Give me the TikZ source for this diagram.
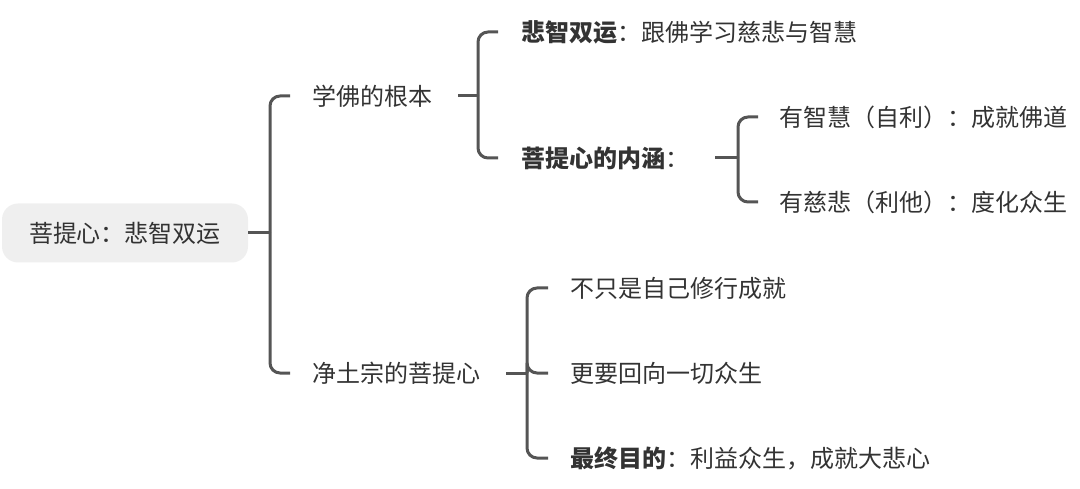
\documentclass[tikz,border=0pt]{standalone}
\usepackage{fontspec}
\setmainfont{Noto Sans CJK SC}
\usepackage{xcolor}
\usepackage{tikz}
\usetikzlibrary{positioning, calc}
\definecolor{linegray}{HTML}{555555}
\definecolor{textgray}{HTML}{333333}
\definecolor{rootfill}{HTML}{EFEFEF}

\begin{document}
\begin{tikzpicture}[x=1pt, y=-1pt, every node/.style={font=\fontsize{24}{28}\selectfont, text=textgray}]
			\tikzstyle{topic}=[anchor=west, inner sep=0pt]
			\tikzstyle{branch}=[draw=linegray, line width=3, rounded corners=10]
			\tikzstyle{stub}=[draw=linegray, line width=3]
			\useasboundingbox (0,0) rectangle (1080,489);
			
			\node (root) at (125,233) [fill=rootfill, rounded corners=16, minimum width=246, minimum height=59, inner sep=0pt] {菩提心：悲智双运};
			
			\node (t1) at (312,96) [topic] {学佛的根本};
			\node (t2) at (312,373) [topic] {净土宗的菩提心};
			
			\node (c1) at (521,32) [topic] {\textbf{悲智双运}：跟佛学习慈悲与智慧};
			\node (c2) at (521,158) [topic] {\textbf{菩提心的内涵}：};
			
			\node (d1) at (779,117) [topic] {有智慧（自利）：成就佛道};
			\node (d2) at (779,202) [topic] {有慈悲（利他）：度化众生};
			
			\node (e1) at (570,288) [topic] {不只是自己修行成就};
			\node (e2) at (570,373) [topic] {更要回向一切众生};
			\node (e3) at (570,458) [topic] {\textbf{最终目的}：利益众生，成就大悲心};
			
			\coordinate (j0) at (270,233);
			\coordinate (j1) at (478,96);
			\coordinate (j2) at (738,158);
			\coordinate (j3) at (527,373);
			
			%% root
			\draw [stub] (root.east) -- (j0);
			\draw [branch] (j0) |- ([xshift=-22]t1.west);
			\draw [branch] (j0) |- ([xshift=-22]t2.west);
			
			%% 学佛的根本
			\draw [stub, shorten <=26] (t1.east) -- (j1);
			\draw [branch] (j1) |- ([xshift=-23]c1.west);
			\draw [branch] (j1) |- ([xshift=-23]c2.west);
			
			%% 菩提心的内涵
			\draw [stub, shorten <=26] (c2.east) -- (j2);
			\draw [branch] (j2) |- ([xshift=-21]d1.west);
			\draw [branch] (j2) |- ([xshift=-21]d2.west);
			
			%% 净土宗的菩提心
			\draw [stub, shorten <=26] (t2.east) -- (j3);
			\draw [branch] (j3) |- ([xshift=-22]e1.west);
			\draw [branch] (j3) |- ([xshift=-22]e2.west);
			\draw [branch] (j3) |- ([xshift=-22]e3.west);
\end{tikzpicture}
\end{document}
